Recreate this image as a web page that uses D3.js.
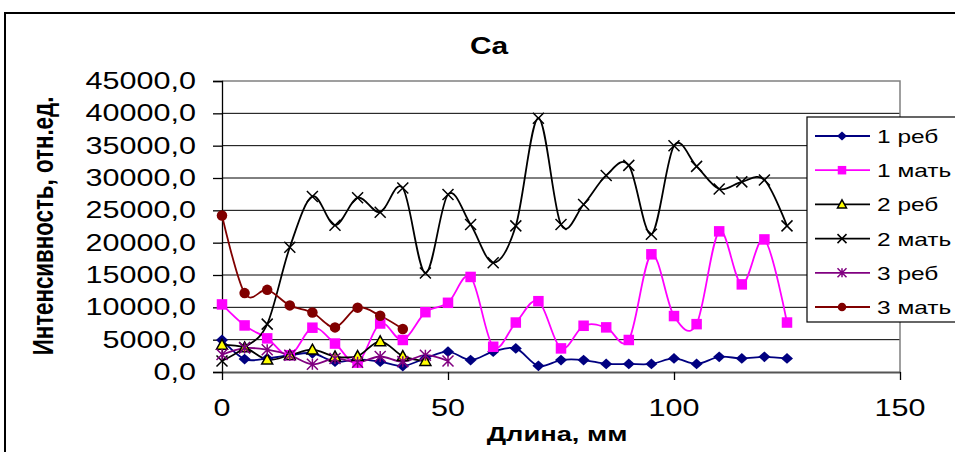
<!DOCTYPE html>
<html lang="ru">
<head>
    <meta charset="UTF-8">
    <title>Ca</title>
    <script src="https://d3js.org/d3.v7.min.js"></script>
    <style>
        body { margin: 0; background: #fff; }
        svg { display: block; font-family: "Liberation Sans", Arial, sans-serif; }
    </style>
</head>
<body>
    <div id="chart"></div>

    <script>
        // Data (x in mm, y in relative units)
        const xLong = [0, 5, 10, 15, 20, 25, 30, 35, 40, 45, 50, 55, 60, 65, 70, 75, 80, 85, 90, 95, 100, 105, 110, 115, 120, 125];
        const reb1 = [4950, 2000, 2100, 2600, 2900, 1600, 1950, 1600, 930, 2100, 3150, 1850, 3150, 3650, 950, 1850, 1850, 1250, 1250, 1250, 2100, 1250, 2350, 2100, 2350, 2100];
        const mat1 = [10450, 7200, 5200, 2600, 6850, 4400, 1450, 7500, 4950, 9250, 10700, 14700, 3900, 7650, 10950, 3650, 7150, 6900, 4950, 18200, 8650, 7400, 21750, 13550, 20500, 7650];
        const reb2 = [4200, 3800, 1900, 2600, 3450, 2400, 2450, 4750, 2450, 1700];
        const mat2 = [1700, 3800, 7400, 19300, 27150, 22700, 26950, 24700, 28450, 15300, 27450, 22800, 16900, 22600, 39250, 22800, 25900, 30400, 31950, 21300, 35000, 31800, 28300, 29400, 29700, 22600];
        const reb3 = [2700, 3700, 3450, 2600, 1200, 2100, 1500, 2400, 1600, 2600, 1700];
        const mat3 = [24200, 12200, 12700, 10300, 9200, 6900, 9950, 8700, 6650];

        const seriesNames = ["1 реб", "1 мать", "2 реб", "2 мать", "3 реб", "3 мать"];
        const xTicks = [0, 50, 100, 150];
        const yTicks = [0, 5000, 10000, 15000, 20000, 25000, 30000, 35000, 40000, 45000];

        // Series definitions (style kept apart from the values)
        const series = [
            { name: seriesNames[0], ys: reb1, line: "#000080", fill: "#000080", stroke: "none", shape: "diamond", size: 12 },
            { name: seriesNames[1], ys: mat1, line: "#ff00ff", fill: "#ff00ff", stroke: "none", shape: "square", size: 10.5 },
            { name: seriesNames[2], ys: reb2, line: "#000000", fill: "#ffff00", stroke: "#000000", shape: "triangle", size: 11 },
            { name: seriesNames[3], ys: mat2, line: "#000000", fill: "none", stroke: "#000000", shape: "cross", size: 11 },
            { name: seriesNames[4], ys: reb3, line: "#800080", fill: "none", stroke: "#800080", shape: "star", size: 11 },
            { name: seriesNames[5], ys: mat3, line: "#800000", fill: "#800000", stroke: "none", shape: "circle", size: 10.5 }
        ];

        const W = 955, H = 452;
        const stretch = 1.3; // the picture is wider than tall, text is too
        const plot = { left: 222, right: 900, top: 81, bottom: 372 };

        const svg = d3.select("#chart").append("svg")
            .attr("width", W)
            .attr("height", H);

        // Chart border
        svg.append("rect")
            .attr("x", 5).attr("y", 13)
            .attr("width", W + 10).attr("height", H + 10)
            .attr("fill", "#fff")
            .attr("stroke", "#000")
            .attr("stroke-width", 2);

        const x = d3.scaleLinear().domain([0, 150]).range([plot.left, plot.right]);
        const y = d3.scaleLinear().domain([0, 45000]).range([plot.bottom, plot.top]);

        // helper for horizontally stretched text
        function label(g, tx, ty, text, opts = {}) {
            return g.append("text")
                .attr("transform", `translate(${tx},${ty}) scale(${stretch},1)` + (opts.rotate ? ` rotate(${opts.rotate})` : ""))
                .attr("text-anchor", opts.anchor || "middle")
                .attr("font-size", opts.size || 23)
                .attr("font-weight", opts.bold ? "bold" : "normal")
                .attr("fill", "#000")
                .text(text);
        }

        // Gridlines
        svg.append("g")
            .selectAll("line")
            .data(yTicks.slice(1, -1))
            .join("line")
            .attr("x1", plot.left).attr("x2", plot.right)
            .attr("y1", d => y(d)).attr("y2", d => y(d))
            .attr("stroke", "#000")
            .attr("stroke-width", 1);

        // Plot frame
        svg.append("path")
            .attr("d", `M${plot.left},${plot.top}H${plot.right}V${plot.bottom}`)
            .attr("fill", "none")
            .attr("stroke", "#808080")
            .attr("stroke-width", 1.5);

        // Y axis
        svg.append("g")
            .attr("transform", `translate(${plot.left},0)`)
            .call(d3.axisLeft(y).tickValues(yTicks).tickSize(9).tickFormat(() => ""))
            .call(g => g.selectAll("line, path").attr("stroke", "#000").attr("stroke-width", 1.3));

        // X axis
        svg.append("g")
            .attr("transform", `translate(0,${plot.bottom})`)
            .call(d3.axisBottom(x).tickValues(xTicks).tickSize(8).tickSizeOuter(0).tickFormat(() => ""))
            .call(g => g.selectAll("line").attr("stroke", "#000").attr("stroke-width", 1.3))
            .call(g => g.select(".domain").attr("stroke", "#555").attr("stroke-width", 2));

        // Tick labels
        const fmt = v => d3.format(".1f")(v).replace(".", ",");
        const yl = svg.append("g");
        yTicks.forEach(v => label(yl, 196, y(v) + 8, fmt(v), { anchor: "end", size: 23.5 }));
        const xl = svg.append("g");
        xTicks.forEach(v => label(xl, x(v), 416, String(v), { size: 23.5 }));

        // Titles
        label(svg, 489, 54, "Ca", { bold: true, size: 23 });
        label(svg, 557, 441, "Длина, мм", { bold: true, size: 21 });
        label(svg, 53, 226, "Интенсивность, отн.ед.", { bold: true, size: 22.3, rotate: -90 });

        // Marker drawing
        function marker(g, s, size) {
            const r = size / 2;
            if (s.shape === "diamond") {
                g.append("path").attr("d", `M0,${-r * 0.9}L${r},0L0,${r * 0.9}L${-r},0Z`).attr("fill", s.fill);
            } else if (s.shape === "square") {
                g.append("rect").attr("x", -r).attr("y", -r).attr("width", size).attr("height", size).attr("fill", s.fill);
            } else if (s.shape === "triangle") {
                g.append("path").attr("d", `M0,${-r}L${r},${r * 0.8}L${-r},${r * 0.8}Z`)
                    .attr("fill", s.fill).attr("stroke", s.stroke).attr("stroke-width", 1.5);
            } else if (s.shape === "cross") {
                g.append("path").attr("d", `M${-r},${-r}L${r},${r}M${-r},${r}L${r},${-r}`)
                    .attr("stroke", s.stroke).attr("stroke-width", 1.5);
            } else if (s.shape === "star") {
                g.append("path").attr("d", `M${-r},${-r}L${r},${r}M${-r},${r}L${r},${-r}M0,${-r}V${r}`)
                    .attr("stroke", s.stroke).attr("stroke-width", 1.5);
            } else if (s.shape === "circle") {
                g.append("circle").attr("r", r).attr("fill", s.fill);
            }
        }

        // Smoothed lines and markers
        const line = d3.line()
            .x(d => x(d[0]))
            .y(d => y(d[1]))
            .curve(d3.curveCardinal.tension(0));

        const plotG = svg.append("g");
        series.forEach(s => {
            const pts = s.ys.map((v, i) => [xLong[i], v]);
            plotG.append("path")
                .datum(pts)
                .attr("d", line)
                .attr("fill", "none")
                .attr("stroke", s.line)
                .attr("stroke-width", 1.8);
        });
        series.forEach(s => {
            const pts = s.ys.map((v, i) => [xLong[i], v]);
            plotG.append("g")
                .selectAll("g")
                .data(pts)
                .join("g")
                .attr("transform", d => `translate(${x(d[0])},${y(d[1])})`)
                .each(function() { marker(d3.select(this), s, s.size); });
        });

        // Legend
        const legend = svg.append("g").attr("transform", "translate(807,117)");
        legend.append("rect")
            .attr("width", 200).attr("height", 205)
            .attr("fill", "#fff")
            .attr("stroke", "#000")
            .attr("stroke-width", 1.2);
        series.forEach((s, i) => {
            const row = legend.append("g").attr("transform", `translate(0,${19 + i * 34.2})`);
            row.append("line")
                .attr("x1", 8).attr("x2", 63)
                .attr("stroke", s.line)
                .attr("stroke-width", 1.8);
            marker(row.append("g").attr("transform", "translate(35,0)"), s, s.size - 2);
            label(row, 70, 7, s.name, { anchor: "start", size: 18.8 });
        });
    </script>
</body>
</html>
